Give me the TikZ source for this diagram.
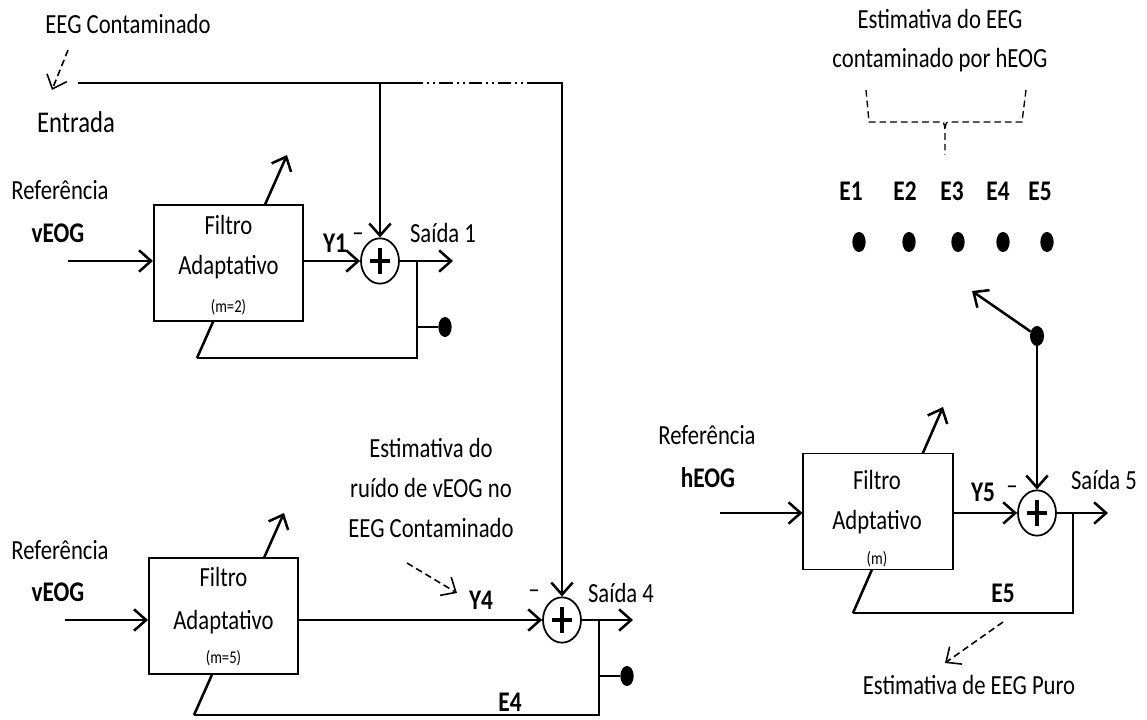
\documentclass[tikz,border=0pt]{standalone}
\usepackage{fontspec}
\setmainfont{Carlito}
\usetikzlibrary{arrows.meta,shapes.geometric}
\newcommand{\vs}[1]{\scalebox{1}[1.22]{#1}}
\newcommand{\plusin}[1]{\draw[line width=3pt] ([xshift=-7.5pt]#1.center) -- ([xshift=7.5pt]#1.center) ([yshift=-9.5pt]#1.center) -- ([yshift=9.5pt]#1.center);}
\begin{document}
\begin{tikzpicture}[x=0.75pt,y=-0.75pt,
  >={Straight Barb[length=9pt,width=16pt]},
  txt/.style={inner sep=0pt,font=\fontsize{17}{20}\selectfont},
  btxt/.style={inner sep=0pt,font=\fontsize{17.5}{20}\selectfont\bfseries},
  small/.style={inner sep=0pt,font=\fontsize{11}{13}\selectfont},
  wire/.style={line width=1.9pt},
  filt/.style={draw,line width=1.3pt,fill=white,minimum width=112pt,minimum height=87pt,inner sep=0pt},
  sum/.style={draw,ellipse,line width=1.3pt,minimum width=28.5pt,minimum height=34pt,inner sep=0pt},
  dotm/.style={fill,ellipse,minimum width=10pt,minimum height=15pt,inner sep=0pt},
  dsh/.style={line width=1.2pt,dash pattern=on 5pt off 3pt},
]
\useasboundingbox (0,0) rectangle (1147,720);

% ---------- top input ----------
\node[txt] (eegc) at (128,24) {\vs{EEG Contaminado}};
\node[txt,font=\fontsize{18.5}{20}\selectfont] (entrada) at (76,122) {\vs{Entrada}};
\coordinate (da1) at (68,50);
\coordinate (da2) at (52,90);
\draw[dsh,->] (da1) -- (da2);

% ---------- block 1 ----------
\node[txt] (ref1) at (60,190) {\vs{Referência}};
\node[btxt] (veog1) at (58,233) {\vs{vEOG}};
\coordinate (a1) at (68,261);
\node[sum] (s1) at (380,261) {};
\coordinate (o1) at (453,261);
\coordinate (fb1) at (417,261);
\coordinate (fb1b) at (417,358);
\coordinate (fb1c) at (197,358);
\coordinate (t1) at (287,155);
\draw[wire,->] (fb1c) -- (t1);
\node[filt] (f1) at (228.5,263) {};
\node[txt] (f1a) at (228.5,225) {\vs{Filtro}};
\node[txt] (f1b) at (228.5,267) {\vs{Adaptativo}};
\node[small] (f1c) at (228.5,307) {\vs{(m=2)}};
\draw[wire] (fb1) -- (fb1b) -- (fb1c);
\node[dotm] (d1) at (445,327) {};
\draw[wire] (fb1 |- d1) -- (d1);
\draw[wire,->] (a1) -- (a1 -| f1.west);
\draw[wire,->] (f1.east |- s1) -- (s1.west);
\draw[wire,->] (s1.east) -- (o1);
\plusin{s1}
\node[btxt] (y1) at (335,243) {\vs{Y1}};
\node[txt] (m1) at (358,237) {\vs{–}};
\node[txt] (sa1) at (443,233) {\vs{Saída 1}};

% ---------- block 4 ----------
\node[txt] (ref4) at (60,550) {\vs{Referência}};
\node[btxt] (veog4) at (58,592) {\vs{vEOG}};
\coordinate (a4) at (65,620);
\node[sum] (s4) at (562,620) {};
\coordinate (o4) at (633,620);
\coordinate (fb4) at (599,620);
\coordinate (fb4b) at (599,715);
\coordinate (fb4c) at (194,715);
\coordinate (t4) at (284,513);
\draw[wire,->] (fb4c) -- (t4);
\node[filt] (f4) at (223.5,616) {};
\node[txt] (f4a) at (223.5,577) {\vs{Filtro}};
\node[txt] (f4b) at (223.5,622) {\vs{Adaptativo}};
\node[small] (f4c) at (223.5,658) {\vs{(m=5)}};
\draw[wire] (fb4) -- (fb4b) -- (fb4c);
\node[dotm] (d4) at (627,676) {};
\draw[wire] (fb4 |- d4) -- (d4);
\draw[wire,->] (a4) -- (a4 -| f4.west);
\draw[wire,->] (f4.east |- s4) -- (s4.west);
\draw[wire,->] (s4.east) -- (o4);
\plusin{s4}
\node[btxt] (y4) at (481,600) {\vs{Y4}};
\node[txt] (m4) at (534,594) {\vs{–}};
\node[txt] (sa4) at (621,593) {\vs{Saída 4}};
\node[btxt] (e4) at (510,702) {\vs{E4}};
\node[txt] (est1) at (431,448) {\vs{Estimativa do}};
\node[txt] (est2) at (431,488) {\vs{ruído de vEOG no}};
\node[txt] (est3) at (431,528) {\vs{EEG Contaminado}};
\coordinate (db1) at (407,563);
\coordinate (db2) at (457,593);
\draw[dsh,->] (db1) -- (db2);

% ---------- top line ----------
\coordinate (in0) at (78,83);
\coordinate (dd1) at (410,83);
\coordinate (dd2) at (536,83);
\draw[wire] (in0) -- (dd1);
\draw[wire,dash pattern=on 10pt off 3pt on 1.5pt off 3pt on 1.5pt off 3pt] (dd1) -- (dd2);
\draw[wire,->] (dd2) -- (s4.north |- in0) -- (s4.north);
\draw[wire,->] (s1.north |- in0) -- (s1.north);

% ---------- block 5 ----------
\node[txt] (ref5) at (707,435) {\vs{Referência}};
\node[btxt] (heog) at (708,478) {\vs{hEOG}};
\coordinate (a5) at (720,513);
\node[sum] (s5) at (1037,513) {};
\coordinate (o5) at (1108,513);
\coordinate (fb5) at (1073,513);
\coordinate (fb5b) at (1073,613);
\coordinate (fb5c) at (853,613);
\coordinate (t5) at (943,407);
\draw[wire,->] (fb5c) -- (t5);
\node[filt] (f5) at (878,511.5) {};
\node[txt] (f5a) at (877,480) {\vs{Filtro}};
\node[txt] (f5b) at (877,522) {\vs{Adptativo}};
\node[small] (f5c) at (877,559) {\vs{(m)}};
\draw[wire] (fb5) -- (fb5b) -- (fb5c);
\draw[wire,->] (a5) -- (a5 -| f5.west);
\draw[wire,->] (f5.east |- s5) -- (s5.west);
\draw[wire,->] (s5.east) -- (o5);
\plusin{s5}
\node[btxt] (y5) at (983,492) {\vs{Y5}};
\node[txt] (m5) at (1012,490) {\vs{–}};
\node[txt] (sa5) at (1104,480) {\vs{Saída 5}};
\node[btxt] (e5) at (1003,593) {\vs{E5}};
\coordinate (dc1) at (1003,622);
\coordinate (dc2) at (945,663);
\draw[dsh,->] (dc1) -- (dc2);
\node[txt] (puro) at (969,685) {\vs{Estimativa de EEG Puro}};

% ---------- selector ----------
\node[txt] (eh1) at (940,19) {\vs{Estimativa do EEG}};
\node[txt] (eh2) at (940,60) {\vs{contaminado por hEOG}};
\coordinate (bl) at (866,90);
\coordinate (blb) at (869,122);
\coordinate (bm) at (945,130);
\coordinate (bs) at (945,155);
\coordinate (brb) at (1022,122);
\coordinate (br) at (1026,90);
\draw[dsh,line width=1pt] (bl) -- (blb) -- (940,122) .. controls (944,122) .. (bm) -- (bs);
\draw[dsh,line width=1pt] (br) -- (brb) -- (950,122) .. controls (946,122) .. (bm);
\foreach \i/\xl/\xd in {1/851/859,2/905/909,3/952/958,4/998/1003,5/1040/1047}{
  \node[btxt] (E\i) at (\xl,191) {\vs{E\i}};
  \node[dotm] (p\i) at (\xd,242) {};
}
\node[dotm,minimum width=10.5pt] (sw) at (1037,336) {};
\coordinate (swt) at (972,291);
\draw[wire,->] (sw) -- (swt);
\draw[wire,->] (sw) -- (s5.north);
\end{tikzpicture}
\end{document}
